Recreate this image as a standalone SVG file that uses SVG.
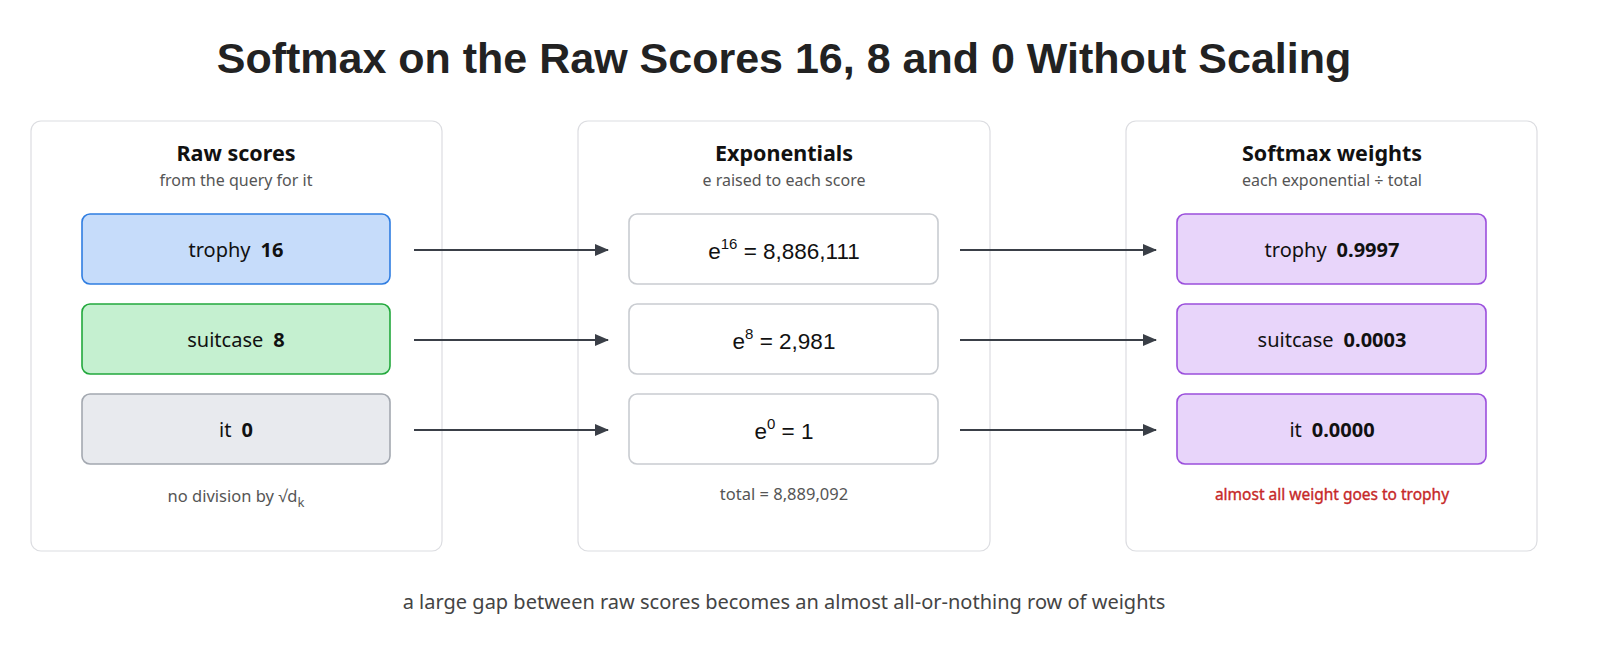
<svg xmlns="http://www.w3.org/2000/svg" width="1600" height="660" viewBox="0 0 1600 660">
<style>
.title{font-family:"Liberation Sans",Arial,sans-serif;font-weight:bold;font-size:43px;fill:#222;text-anchor:middle}
.panel{fill:#fff;stroke:#dcdde1;stroke-width:1.2}
.ph{font-family:"Noto Sans","Open Sans",sans-serif;font-weight:bold;font-size:21.5px;fill:#111;text-anchor:middle}
.ps{font-family:"Noto Sans","Open Sans",sans-serif;font-size:16px;fill:#555;text-anchor:middle}
.lbl{font-family:"Noto Sans","Open Sans",sans-serif;font-size:20px;fill:#111;text-anchor:middle}
.num{font-weight:bold}
.exp{font-family:"Liberation Sans",Arial,sans-serif;font-size:22.5px;fill:#111;text-anchor:middle}
.foot{font-family:"Noto Sans","Open Sans",sans-serif;font-size:16.5px;fill:#555;text-anchor:middle}
.red{fill:#c62828;font-weight:normal;font-size:15.5px;stroke:#c62828;stroke-width:0.35}
.cap{font-family:"Noto Sans","Open Sans",sans-serif;font-size:20px;fill:#444;text-anchor:middle}
.blue{fill:#c6dcfa;stroke:#2f7de1;stroke-width:1.6}
.green{fill:#c5f0d0;stroke:#22a83c;stroke-width:1.6}
.gray{fill:#e8eaee;stroke:#a3a8b0;stroke-width:1.6}
.white{fill:#fff;stroke:#c9ccd1;stroke-width:1.6}
.purple{fill:#e8d5fa;stroke:#9b4fdc;stroke-width:1.6}
.arrow{stroke:#3a3f47;stroke-width:2;fill:none;marker-end:url(#ah)}
</style>
<defs>
<marker id="ah" markerWidth="14" markerHeight="14" refX="13" refY="7" orient="auto" markerUnits="userSpaceOnUse" viewBox="0 0 14 14">
<path d="M0,1 L14,7 L0,13 z" fill="#3a3f47"/>
</marker>
</defs>
<rect width="1600" height="660" fill="#fff"/>
<text class="title" x="784" y="73">Softmax on the Raw Scores 16, 8 and 0 Without Scaling</text>

<g id="panel-raw">
<rect class="panel" x="31" y="121" width="411" height="430" rx="10"/>
<text class="ph" x="236" y="161">Raw scores</text>
<text class="ps" x="236" y="186">from the query for it</text>
<text class="foot" x="236" y="502">no division by √d<tspan font-size="13" dy="5">k</tspan></text>
</g>
<g id="node-raw-trophy">
<rect class="blue" x="82" y="214" width="308" height="70" rx="8"/>
<text class="lbl" x="236" y="257">trophy<tspan class="num" dx="10">16</tspan></text>
</g>
<g id="node-raw-suitcase">
<rect class="green" x="82" y="304" width="308" height="70" rx="8"/>
<text class="lbl" x="236" y="347">suitcase<tspan class="num" dx="10">8</tspan></text>
</g>
<g id="node-raw-it">
<rect class="gray" x="82" y="394" width="308" height="70" rx="8"/>
<text class="lbl" x="236" y="437">it<tspan class="num" dx="10">0</tspan></text>
</g>

<g id="panel-exp">
<rect class="panel" x="578" y="121" width="412" height="430" rx="10"/>
<text class="ph" x="784" y="161">Exponentials</text>
<text class="ps" x="784" y="186">e raised to each score</text>
<text class="foot" x="784" y="500">total = 8,889,092</text>
</g>
<g id="node-exp-trophy">
<rect class="white" x="629" y="214" width="309" height="70" rx="8"/>
<text class="exp" x="784" y="259">e<tspan font-size="15" dy="-10">16</tspan><tspan dy="10"> = 8,886,111</tspan></text>
</g>
<g id="node-exp-suitcase">
<rect class="white" x="629" y="304" width="309" height="70" rx="8"/>
<text class="exp" x="784" y="349">e<tspan font-size="15" dy="-10">8</tspan><tspan dy="10"> = 2,981</tspan></text>
</g>
<g id="node-exp-it">
<rect class="white" x="629" y="394" width="309" height="70" rx="8"/>
<text class="exp" x="784" y="439">e<tspan font-size="15" dy="-10">0</tspan><tspan dy="10"> = 1</tspan></text>
</g>

<g id="panel-soft">
<rect class="panel" x="1126" y="121" width="411" height="430" rx="10"/>
<text class="ph" x="1332" y="161">Softmax weights</text>
<text class="ps" x="1332" y="186">each exponential ÷ total</text>
<text class="foot red" x="1332" y="500">almost all weight goes to trophy</text>
</g>
<g id="node-soft-trophy">
<rect class="purple" x="1177" y="214" width="309" height="70" rx="8"/>
<text class="lbl" x="1332" y="257">trophy<tspan class="num" dx="10">0.9997</tspan></text>
</g>
<g id="node-soft-suitcase">
<rect class="purple" x="1177" y="304" width="309" height="70" rx="8"/>
<text class="lbl" x="1332" y="347">suitcase<tspan class="num" dx="10">0.0003</tspan></text>
</g>
<g id="node-soft-it">
<rect class="purple" x="1177" y="394" width="309" height="70" rx="8"/>
<text class="lbl" x="1332" y="437">it<tspan class="num" dx="10">0.0000</tspan></text>
</g>

<g id="connectors">
<line class="arrow" x1="414" y1="250" x2="608" y2="250"/>
<line class="arrow" x1="414" y1="340" x2="608" y2="340"/>
<line class="arrow" x1="414" y1="430" x2="608" y2="430"/>
<line class="arrow" x1="960" y1="250" x2="1156" y2="250"/>
<line class="arrow" x1="960" y1="340" x2="1156" y2="340"/>
<line class="arrow" x1="960" y1="430" x2="1156" y2="430"/>
</g>

<text class="cap" x="784" y="609">a large gap between raw scores becomes an almost all-or-nothing row of weights</text>
</svg>
